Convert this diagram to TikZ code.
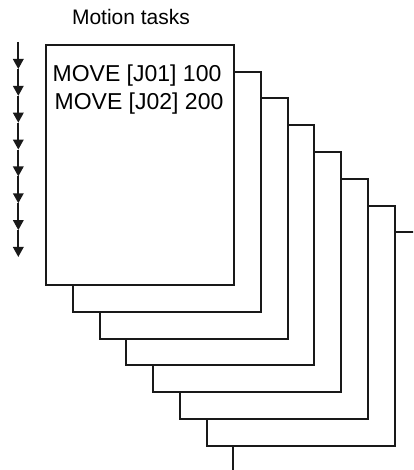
\documentclass[tikz,border=0pt]{standalone}
\usepackage{fontspec}
\setmainfont{Liberation Sans}
\usetikzlibrary{arrows.meta}
\begin{document}
\begin{tikzpicture}[x=1pt,y=-1pt,
  taskbox/.style={draw=black!90,line width=2pt,fill=white,minimum width=188pt,minimum height=240pt,inner sep=0pt,anchor=north west},
  lbl/.style={font=\fontsize{21}{25}\selectfont,inner sep=0pt,anchor=base},
  cmd/.style={font=\fontsize{23}{27}\selectfont,inner sep=0pt,anchor=base},
  flow/.style={line width=1.8pt,draw=black!90,-{Triangle[width=10.5pt,length=10pt]}}]
\useasboundingbox (0,0) rectangle (413,470);
\clip (0,0) rectangle (413,470);
\foreach \i in {7,6,...,0}{
  \node[taskbox] (b\i) at ({45+26.75*\i},{44+26.75*\i}) {};
}
\node[lbl] (title) at (131,25) {Motion tasks};
\node[cmd] (l1) at (137,82) {MOVE [J01] 100};
\node[cmd] (l2) at (139,110) {MOVE [J02] 200};
\coordinate (a0) at (18.3,42);
\foreach \k in {1,...,8}{
  \coordinate (a\k) at (18.3,{69+26.85*(\k-1)});
}
\foreach \k [evaluate=\k as \n using int(\k+1)] in {0,...,7}{
  \draw[flow] (a\k) -- (a\n);
}
\end{tikzpicture}
\end{document}
